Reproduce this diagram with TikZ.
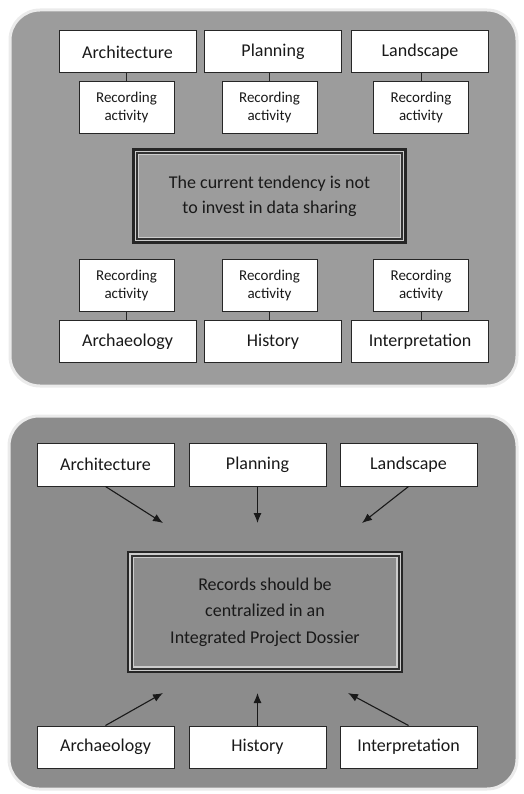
\documentclass[tikz,border=0pt]{standalone}
\usepackage{fontspec}
\setmainfont{Carlito}
\usetikzlibrary{arrows.meta}

\tikzset{
  panel/.style={rounded corners=30pt, draw=black!8, line width=3pt},
  field/.style={draw=black!85, fill=white, line width=1pt, minimum width=137pt,
    minimum height=42pt, text=black!90, font=\fontsize{18}{22}\selectfont},
  record/.style={field, minimum width=95pt, minimum height=52pt, align=center,
    font=\fontsize{15}{18}\selectfont},
  core/.style={draw=black!85, line width=4.5pt, minimum width=270pt, minimum height=91pt,
    align=center, text=black!90},
  trim/.style={draw=black!20, line width=1.2pt, double=black!80, double distance=2pt},
  link/.style={draw=black!85, line width=1pt},
  flow/.style={-{Latex[length=10pt,width=8pt]}, draw=black!90, line width=1.1pt},
}

\begin{document}
\begin{tikzpicture}[x=1pt, y=-1pt]
\useasboundingbox (0,0) rectangle (523,794);

% upper panel
\draw[panel, fill=black!39] (10,10) rectangle (517,386);
\node[core, font=\fontsize{18}{25}\selectfont] (tend) at (269.5,196)
  {The current tendency is not\\to invest in data sharing};
\draw[trim] ([xshift=4.5pt,yshift=-4.5pt]tend.north west) rectangle ([xshift=-4.5pt,yshift=4.5pt]tend.south east);
\foreach \x/\rx/\n/\t in {127.5/126.5/a/Architecture, 273/269.5/p/Planning, 420/421/l/Landscape}{
  \node[field] (top\n) at (\x,52) {\t};
  \node[record] (toprec\n) at (\rx,108) {Recording\\activity};
  \draw[link] (toprec\n.north) -- (toprec\n.north |- top\n.south);}
\foreach \x/\rx/\n/\t in {127.5/126.5/a/Archaeology, 273/269.5/h/History, 420/421/i/Interpretation}{
  \node[field] (bot\n) at (\x,341.5) {\t};
  \node[record] (botrec\n) at (\rx,285.5) {Recording\\activity};
  \draw[link] (botrec\n.south) -- (botrec\n.south |- bot\n.north);}

% lower panel
\draw[panel, fill=black!45] (9,416) rectangle (517,789);
\node[core, minimum width=271.5pt, minimum height=117.5pt, font=\fontsize{18}{26.5}\selectfont] (ipd) at (265,612)
  {Records should be\\centralized in an\\Integrated Project Dossier};
\draw[trim] ([xshift=4.5pt,yshift=-4.5pt]ipd.north west) rectangle ([xshift=-4.5pt,yshift=4.5pt]ipd.south east);
\foreach \x/\n/\t/\tx in {105.5/a/Architecture/163, 257.5/p/Planning/257.5, 408.5/l/Landscape/362}{
  \node[field, minimum height=43pt] (src\n) at (\x,464.5) {\t};
  \coordinate (tip\n) at (\tx,523);
  \draw[flow] (src\n.south) -- (tip\n);}
\foreach \x/\n/\t/\tx in {105.5/a/Archaeology/163, 257.5/h/History/257.5, 408.5/i/Interpretation/348}{
  \node[field] (dst\n) at (\x,747) {\t};
  \coordinate (end\n) at (\tx,693);
  \draw[flow] (dst\n.north) -- (end\n);}
\end{tikzpicture}
\end{document}
